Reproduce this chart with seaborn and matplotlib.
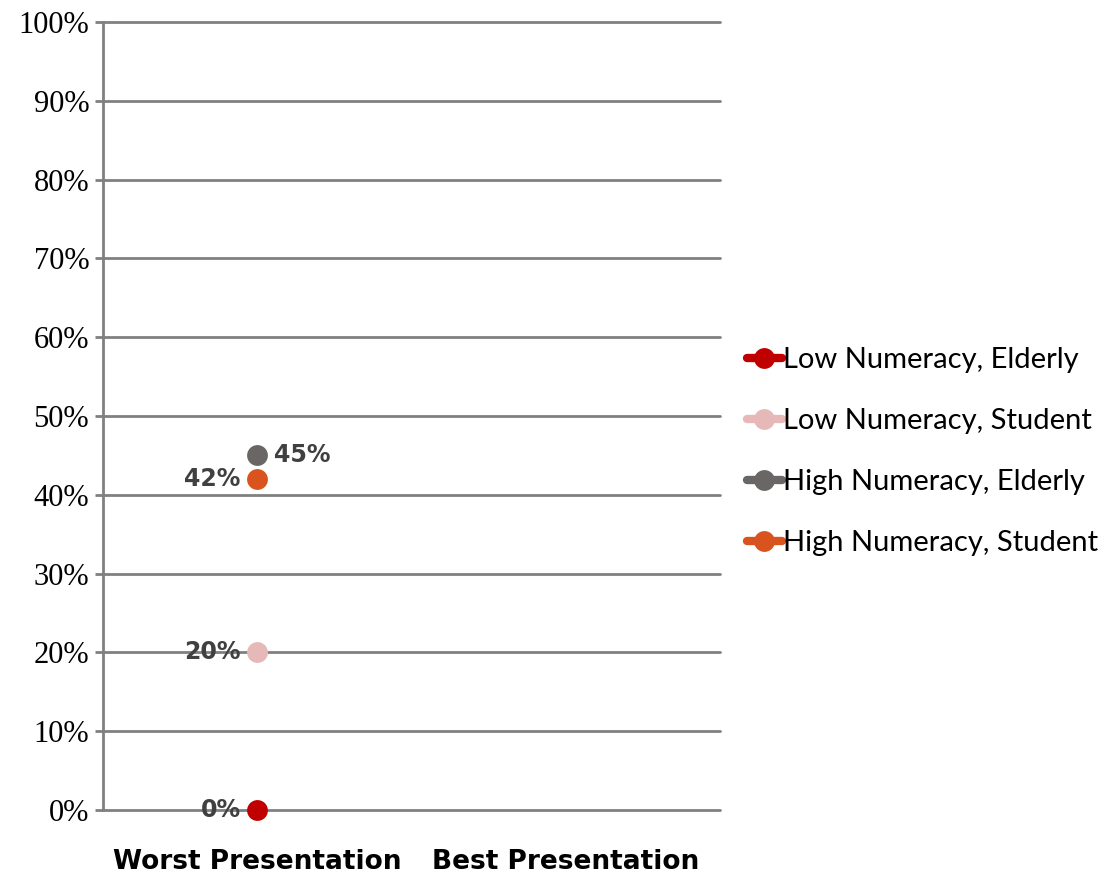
import numpy as np
import pandas as pd
import matplotlib
matplotlib.use('Agg')
import matplotlib.pyplot as plt
import seaborn as sns

categories = ['Worst Presentation', 'Best Presentation']
series_names = ['Low Numeracy, Elderly', 'Low Numeracy, Student',
                'High Numeracy, Elderly', 'High Numeracy, Student']
low_elderly = [0, np.nan]
low_student = [20, np.nan]
high_elderly = [45, np.nan]
high_student = [42, np.nan]
colors = ['#C00000', '#E6B9B8', '#6B6666', '#D9531E']

# label placement: -1 left of point, +1 right of point
label_side = [-1, -1, 1, -1]


def build_frame():
    '''
    Put the series into one long table for seaborn
    '''
    rows = []
    for name, vals in zip(series_names,
                          [low_elderly, low_student, high_elderly, high_student]):
        for i, v in enumerate(vals):
            rows.append({'pos': i, 'series': name, 'value': v})
    return pd.DataFrame(rows)


def main():
    sns.set_style('white')
    df = build_frame()

    fig = plt.figure(figsize=(11.03, 8.83), dpi=100)
    ax = fig.add_axes([0.0934, 0.0827, 0.5596, 0.8924])

    for y in range(0, 101, 10):
        ax.axhline(y, color='#808080', lw=2, zorder=0, clip_on=False)

    sns.lineplot(data=df.dropna(), x='pos', y='value', hue='series',
                 hue_order=series_names, palette=colors, marker='o',
                 markersize=15, markeredgewidth=0, lw=6, ax=ax, zorder=3,
                 clip_on=False)

    # data labels
    for name, side in zip(series_names, label_side):
        sub = df[(df['series'] == name) & df['value'].notna()]
        for _, r in sub.iterrows():
            ax.annotate('%d%%' % r['value'], (r['pos'], r['value']),
                        xytext=(12 * side, 0), textcoords='offset points',
                        ha='left' if side > 0 else 'right', va='center',
                        fontsize=17, fontweight='bold', color='#404040',
                        zorder=4)

    ax.set_xlim(-0.5, 1.5)
    ax.set_ylim(0, 100)
    ax.set_xticks(range(len(categories)))
    ax.set_xticklabels(categories, fontsize=19, fontweight='bold',
                       color='black')
    ax.set_yticks(range(0, 101, 10))
    ax.set_yticklabels(['%d%%' % v for v in range(0, 101, 10)],
                       fontsize=22, family='Liberation Serif', color='black')
    ax.tick_params(axis='x', length=0, pad=28)
    ax.tick_params(axis='y', length=6, width=2, color='#808080', pad=4,
                   left=True)
    ax.set_xlabel('')
    ax.set_ylabel('')

    for s in ['top', 'right', 'bottom']:
        ax.spines[s].set_visible(False)
    ax.spines['left'].set_color('#808080')
    ax.spines['left'].set_linewidth(2)

    handles, labels = ax.get_legend_handles_labels()
    leg = ax.legend(handles, labels, loc='center left',
                    bbox_to_anchor=(1.0, 0.455), frameon=False,
                    prop={'family': 'Lato', 'size': 21},
                    handlelength=1.2, handletextpad=0.05, labelspacing=1.2)
    for t in leg.get_texts():
        t.set_color('black')

    fig.savefig('out.png', dpi=100)


if __name__ == "__main__":
    main()
